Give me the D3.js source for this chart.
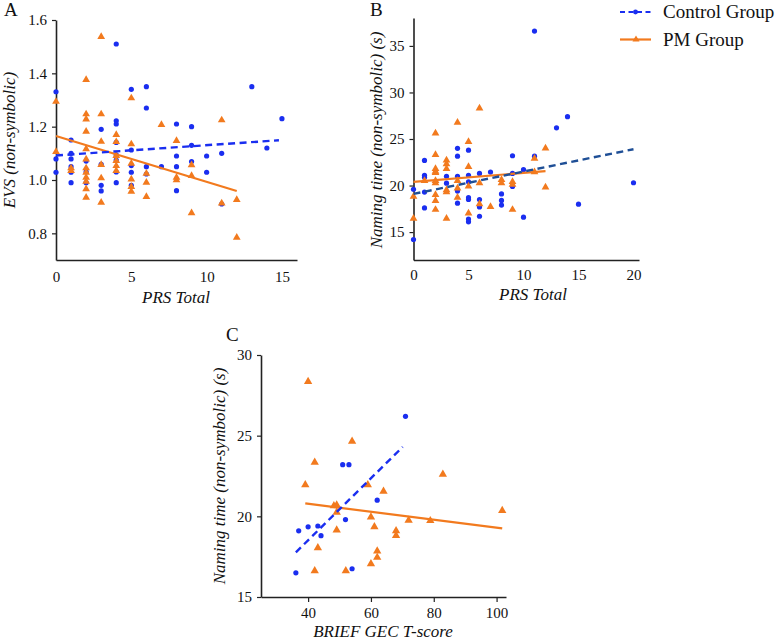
<!DOCTYPE html>
<html><head><meta charset="utf-8">
<script src="https://cdn.jsdelivr.net/npm/d3@7"></script>
<style>
body{margin:0;background:#fff;}
</style></head>
<body><svg id="c" width="777" height="642"></svg>
<script>
// ---------- Panel A: EVS vs PRS Total ----------
const aControl = [[0,1.331],[0,1.079],[0,1.029],[1,1.15],[1,1.10],[1,1.079],[1,1.05],[1,1.029],[1,0.99],
 [2,1.071],[2,1.031],[2,0.99],[3,1.19],[3,1.059],[3,0.98],[3,0.959],
 [4,1.51],[4,1.222],[4,1.21],[4,1.141],[4,1.094],[4,1.075],[4,1.03],[4,0.99],
 [5,1.34],[5,1.1125],[5,1.054],[5,1.029],[5,0.98],[6,1.35],[6,1.27],[6,1.05],[6,1.0225],
 [7,1.05],[8,1.21],[8,1.09],[8,1.05],[8,0.96],[9,1.2],[9,1.13],[9,1.069],[10,1.09],[10,1.029],
 [11,1.10],[11,0.91],[13,1.35],[14,1.12],[15,1.23]];
const aPM = [[0,1.297],[0,1.109],[1,1.0475],[1,1.0375],
 [2,1.379],[2,1.25],[2,1.231],[2,1.185],[2,1.119],[2,1.081],[2,1.0475],[2,1.031],[2,1.0125],[2,0.997],[2,0.969],[2,0.9375],
 [3,1.54],[3,1.25],[3,1.147],[3,1.06],[3,1.01],[3,0.919],
 [4,1.1725],[4,1.146],[4,1.094],[4,1.075],[4,1.056],[4,1.0375],
 [5,1.31],[5,1.1375],[5,1.065],[5,1.006],[5,0.9775],[5,0.96],
 [6,1.0275],[6,0.994],[6,0.94],[7,1.21],[8,1.15],[8,1.0125],[8,1.0025],
 [9,1.059],[9,1.019],[9,0.879],[11,1.2275],[11,0.916],[12,0.929],[12,0.7875]];
const aControlFit = [[0,1.092],[14.8,1.149]];
const aPMFit = [[0,1.165],[12,0.959]];
const aXTicks = [0,5,10,15];
const aYTicks = [0.8,1.0,1.2,1.4,1.6];

// ---------- Panel B: Naming time vs PRS Total ----------
const bControl = [[0,19.6],[0,14.2],[1,22.7],[1,21.1],[1,20.9],[1,19.3],[1,17.6],[2,20.4],[3,21.0],[3,20.25],
 [4,24.0],[4,23.15],[4,21.0],[4,19.4],[4,18.1],[5,23.8],[5,21.1],[5,20.4],[5,18.7],[5,18.5],[5,16.4],[5,16.1],
 [6,21.3],[6,18.5],[6,17.7],[6,16.7],[7,21.45],[8,19.1],[8,18.4],[8,17.9],[9,23.2],[9,21.3],[9,19.9],
 [10,21.7],[10,16.6],[11,36.6],[11,23.15],[13,26.2],[14,27.4],[15,18.0],[20,20.3]];
const bPM = [[0,18.9],[0,16.55],[1,20.6],[2,25.7],[2,23.4],[2,21.9],[2,21.6],[2,21.45],[2,20.6],[2,20.35],[2,19.1],[2,18.45],[2,17.5],
 [3,22.8],[3,22.4],[3,21.9],[3,19.6],[3,19.4],[3,16.55],[4,26.85],[4,20.6],[4,19.8],[4,18.8],
 [5,24.8],[5,22.1],[5,20.0],[5,17.1],[6,28.4],[6,20.35],[6,18.1],[7,17.8],[8,20.7],[8,20.35],
 [9,20.5],[9,20.2],[9,17.5],[11,23.0],[11,21.55],[12,24.1],[12,19.9]];
const bControlFit = [[0,19.1],[20,23.9]];
const bPMFit = [[0,20.4],[12,21.55]];
const bXTicks = [0,5,10,15,20];
const bYTicks = [15,20,25,30,35];

// ---------- Panel C: Naming time vs BRIEF GEC ----------
const cControl = [[36.1,16.5],[37,19.1],[40,19.35],[43.1,19.4],[44.1,18.8],[51,23.2],[53,23.2],[51.9,19.8],[54,16.75],[62,21.0],[71,26.2]];
const cPM = [[40,28.4],[54,24.7],[42.1,23.4],[39.1,22.0],[59,22.0],[64,21.6],[82.9,22.65],[101.8,20.4],
 [48.2,20.7],[49.1,20.75],[49.1,20.3],[60,20.0],[72,19.8],[78.9,19.78],[61.1,19.4],[49.1,19.2],
 [68,19.15],[68,18.86],[43.1,18.1],[62,17.9],[62,17.5],[42.1,16.67],[52,16.67],[60,17.1]];
const cControlFit = [[36.1,17.77],[70.1,24.3]];
const cPMFit = [[39.1,20.8],[101.8,19.25]];
const cXTicks = [40,60,80,100];
const cYTicks = [15,20,25,30];

const legendLabels = ["Control Group","PM Group"];

const FONT = "'Liberation Serif','Times New Roman','DejaVu Serif',serif";
const BLUE = "#1a2ef0", ORANGE = "#f27a1e", NAVY = "#1f4f96";
const svg = d3.select("#c");

function panel(o){
  const x = d3.scaleLinear().domain(o.xd).range(o.xr);
  const y = d3.scaleLinear().domain(o.yd).range(o.yr);
  const g = svg.append("g");
  const xa = g.append("g").attr("transform",`translate(0,${o.yr[0]})`)
    .call(d3.axisBottom(x).tickValues(o.xt).tickSize(o.xtick).tickSizeOuter(0).tickPadding(o.xpad).tickFormat(d3.format("d")));
  const ya = g.append("g").attr("transform",`translate(${o.xr[0]},0)`)
    .call(d3.axisLeft(y).tickValues(o.yt).tickSize(4).tickSizeOuter(0).tickPadding(5).tickFormat(o.yf));
  [xa,ya].forEach(a=>{
    a.attr("font-family",null).attr("font-size",null);
    a.selectAll("path.domain").attr("stroke","#222").attr("stroke-width",1.6);
    a.selectAll(".tick line").attr("stroke","#222").attr("stroke-width",1.2);
    a.selectAll("text").style("font-size","15px").style("font-family",FONT).attr("fill","#111");
  });
  g.append("g").selectAll("circle").data(o.ctrl).join("circle")
    .attr("cx",d=>x(d[0])).attr("cy",d=>y(d[1])).attr("r",2.6).attr("fill",BLUE);
  g.append("g").selectAll("path").data(o.pm).join("path")
    .attr("d",d3.symbol(d3.symbolTriangle, o.tri))
    .attr("transform",d=>`translate(${x(d[0])},${y(d[1])+0.8})`).attr("fill",ORANGE);
  const line = d3.line().x(d=>x(d[0])).y(d=>y(d[1]));
  g.append("path").datum(o.pmFit).attr("d",line).attr("stroke",ORANGE).attr("stroke-width",2.2).attr("fill","none");
  g.append("path").datum(o.ctrlFit).attr("d",line).attr("stroke",o.dashColor).attr("stroke-width",2.4)
    .attr("stroke-dasharray","7,4.5").attr("fill","none");
  g.append("text").attr("x",o.xlab[0]).attr("y",o.xlab[1]).attr("text-anchor","middle")
    .style("font-family",FONT).style("font-size","17px").style("font-style","italic").attr("fill","#111").text(o.xtext);
  g.append("text").attr("transform",`translate(${o.ylab[0]},${o.ylab[1]}) rotate(-90)`).attr("text-anchor","middle")
    .style("font-family",FONT).style("font-size","17px").style("font-style","italic").attr("fill","#111").text(o.ytext);
  g.append("text").attr("x",o.pl[0]).attr("y",o.pl[1]).style("font-family",FONT).style("font-size","19px")
    .attr("fill","#111").text(o.ptext);
}

panel({xd:[0,16],xr:[56,297],yd:[0.7,1.6],yr:[260,20],xt:aXTicks,yt:aYTicks,yf:d3.format(".1f"),
  xtick:0,xpad:11,ctrl:aControl,pm:aPM,ctrlFit:aControlFit,pmFit:aPMFit,dashColor:BLUE,tri:26,
  xlab:[176,303],xtext:"PRS Total",ylab:[15,140],ytext:"EVS (non-symbolic)",pl:[4,16],ptext:"A"});

panel({xd:[0,20.5],xr:[413.5,639],yd:[12,38],yr:[260,18],xt:bXTicks,yt:bYTicks,yf:d3.format("d"),
  xtick:0,xpad:9,ctrl:bControl,pm:bPM,ctrlFit:bControlFit,pmFit:bPMFit,dashColor:NAVY,tri:26,
  xlab:[533,300],xtext:"PRS Total",ylab:[382,140],ytext:"Naming time (non-symbolic) (s)",pl:[370,16],ptext:"B"});

panel({xd:[25,103],xr:[261,506],yd:[15,30],yr:[597,355],xt:cXTicks,yt:cYTicks,yf:d3.format("d"),
  xtick:5,xpad:5,ctrl:cControl,pm:cPM,ctrlFit:cControlFit,pmFit:cPMFit,dashColor:BLUE,tri:30,
  xlab:[383,637],xtext:"BRIEF GEC T-score",ylab:[225,476],ytext:"Naming time (non-symbolic) (s)",pl:[226,341],ptext:"C"});

const lg = svg.append("g");
const ly = d3.scalePoint().domain(legendLabels).range([12,39.5]);
lg.append("line").attr("x1",620).attr("x2",651).attr("y1",ly(legendLabels[0])).attr("y2",ly(legendLabels[0]))
  .attr("stroke",BLUE).attr("stroke-width",2.2).attr("stroke-dasharray","5,3.5");
lg.append("circle").attr("cx",635.5).attr("cy",ly(legendLabels[0])).attr("r",2.4).attr("fill",BLUE);
lg.append("line").attr("x1",620).attr("x2",651).attr("y1",ly(legendLabels[1])).attr("y2",ly(legendLabels[1]))
  .attr("stroke",ORANGE).attr("stroke-width",2.2);
lg.append("path").attr("d",d3.symbol(d3.symbolTriangle,22)).attr("transform",`translate(636,${ly(legendLabels[1])})`).attr("fill",ORANGE);
lg.selectAll("text").data(legendLabels).join("text").attr("x",663).attr("y",d=>ly(d)+6)
  .style("font-family",FONT).style("font-size","19px").attr("fill","#111").text(d=>d);
</script></body></html>
